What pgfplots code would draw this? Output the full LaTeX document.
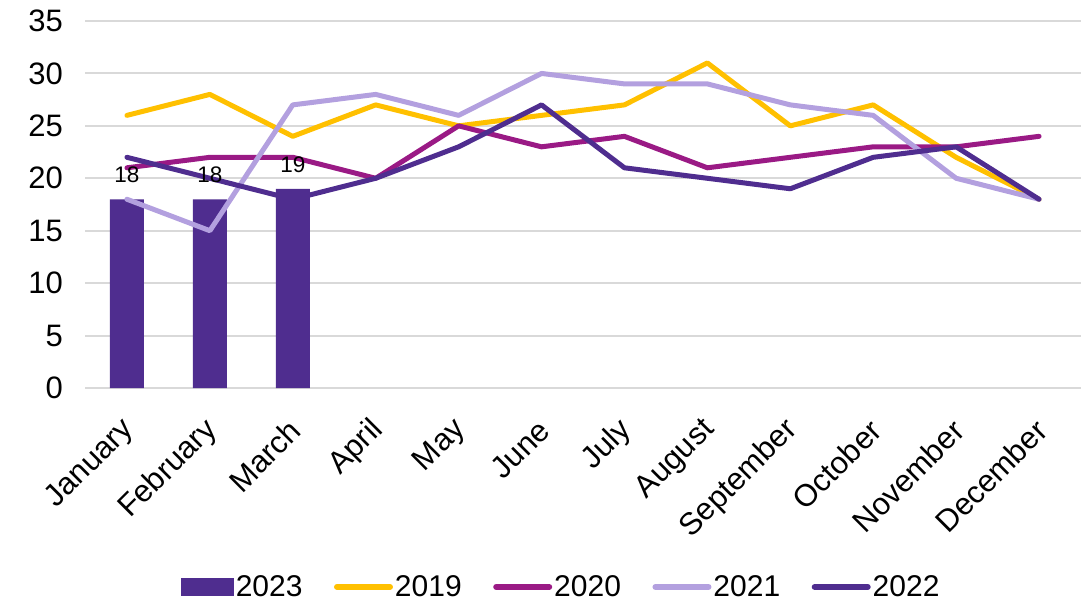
\documentclass[border=0pt]{standalone}
\usepackage{pgfplots}
\pgfplotsset{compat=1.18}
\usepackage{fontspec}
\setmainfont{Liberation Sans}
\definecolor{c2019}{HTML}{FFC000}
\definecolor{c2020}{HTML}{9A1A85}
\definecolor{c2021}{HTML}{B3A0DF}
\definecolor{c2022}{HTML}{4F2D8F}
\definecolor{cgrid}{HTML}{D9D9D9}
\pgfplotsset{
  linelegend/.style={legend image code/.code={\draw[##1, line width=6pt] (0pt,0pt) -- (53pt,0pt);}},
  barlegend/.style={legend image code/.code={\fill[c2022] (0pt,-9pt) rectangle (53pt,9pt);}},
}
\begin{document}
\begin{tikzpicture}[x=1pt,y=1pt]
\begin{axis}[
  at={(0pt,0pt)}, anchor=south west,
  scale only axis, width=995pt, height=367pt,
  xmin=-0.5, xmax=11.5, ymin=0, ymax=35,
  axis line style={draw=none},
  major tick length=0pt,
  ytick={0,5,...,35},
  ymajorgrids, grid style={cgrid, line width=2pt},
  xtick={0,...,11},
  xticklabels={January,February,March,April,May,June,July,August,September,October,November,December},
  /pgf/number format/assume math mode=true,
  yticklabel style={font=\fontsize{31}{31}\selectfont, xshift=-19pt},
  xticklabel style={font=\fontsize{31}{31}\selectfont, xshift=5pt, yshift=-35pt, rotate=45, anchor=east},
  legend style={at={(0.478,-0.542)}, anchor=center, draw=none, fill=none,
    legend columns=-1, font=\fontsize{30}{30}\selectfont,
    /tikz/every even column/.append style={column sep=29.5pt}},
  legend cell align=left,
  clip=false,
]
\addplot[ybar, bar width=34pt, fill=c2022, draw=none,
  nodes near coords, nodes near coords style={font=\fontsize{22.5}{22.5}\selectfont, black, yshift=13pt},
  barlegend]
  coordinates {(0,18) (1,18) (2,19)};
\addlegendentry{2023}
\addplot[c2019, line width=5pt, line join=round, line cap=round, mark=none, linelegend] coordinates {(0,26) (1,28) (2,24) (3,27) (4,25) (5,26) (6,27) (7,31) (8,25) (9,27) (10,22) (11,18)};
\addlegendentry{2019}
\addplot[c2020, line width=5pt, line join=round, line cap=round, mark=none, linelegend] coordinates {(0,21) (1,22) (2,22) (3,20) (4,25) (5,23) (6,24) (7,21) (8,22) (9,23) (10,23) (11,24)};
\addlegendentry{2020}
\addplot[c2021, line width=5pt, line join=round, line cap=round, mark=none, linelegend] coordinates {(0,18) (1,15) (2,27) (3,28) (4,26) (5,30) (6,29) (7,29) (8,27) (9,26) (10,20) (11,18)};
\addlegendentry{2021}
\addplot[c2022, line width=5pt, line join=round, line cap=round, mark=none, linelegend] coordinates {(0,22) (1,20) (2,18) (3,20) (4,23) (5,27) (6,21) (7,20) (8,19) (9,22) (10,23) (11,18)};
\addlegendentry{2022}
\end{axis}
\pgfresetboundingbox
\path[use as bounding box] (-85.5pt,-214pt) rectangle (996.5pt,388pt);
\end{tikzpicture}
\end{document}
